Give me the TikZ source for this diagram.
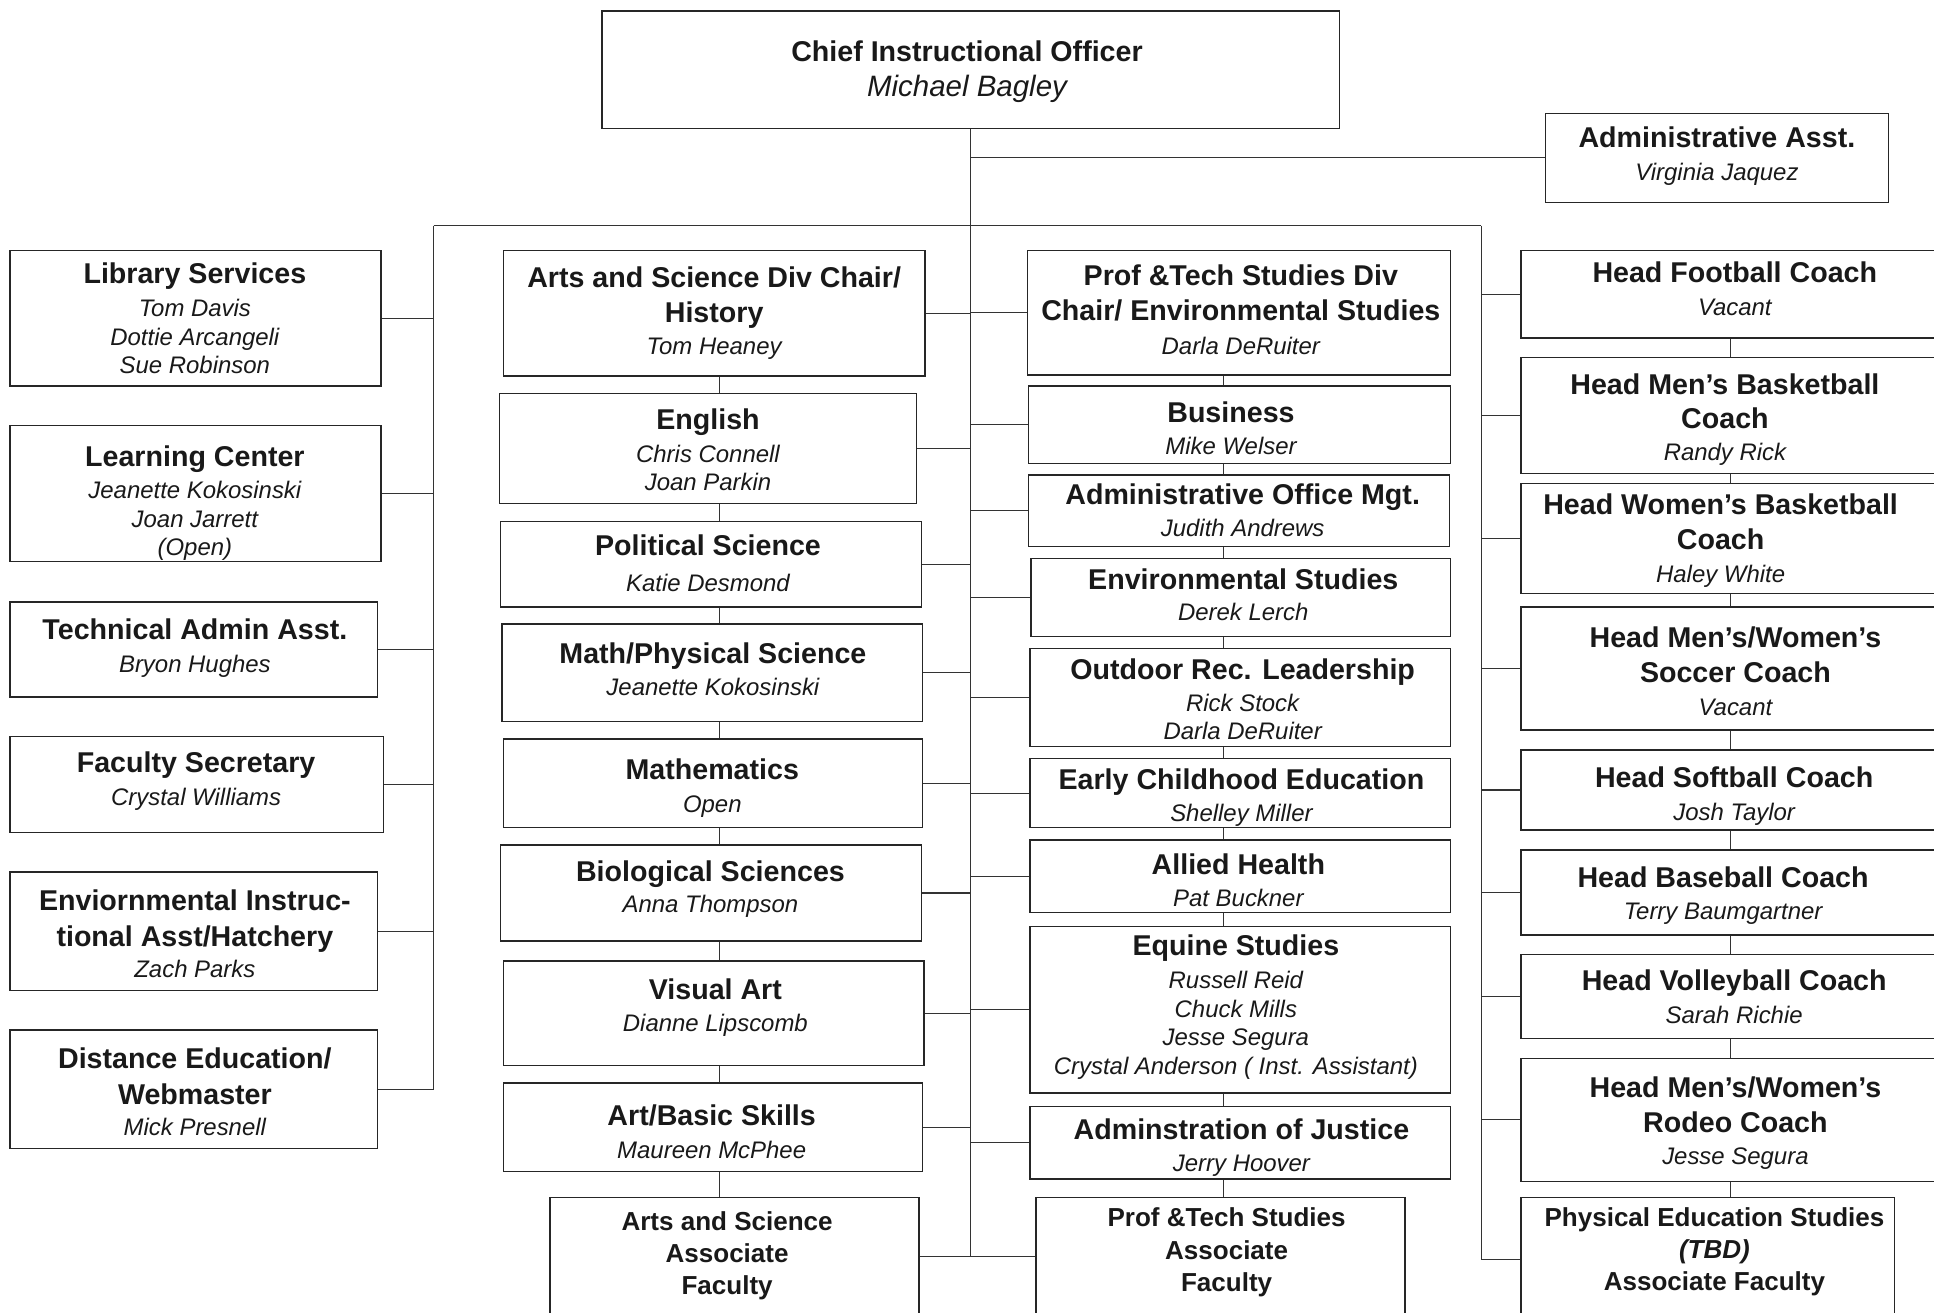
\documentclass[tikz,border=0pt]{standalone}
\usepackage{fontspec}
\setmainfont{Liberation Sans}

\newcommand{\ttl}[1]{{\fontsize{16.5}{20}\selectfont\bfseries #1}}
\newcommand{\smttl}[1]{{\fontsize{15}{18}\selectfont\bfseries #1}}
\newcommand{\nm}[1]{{\itshape #1}}
% box: name, left, top, right, bottom, text x, text top, text
\newcommand{\orgbox}[8]{%
  \node[unitbox, minimum width={(#4-#2)*0.025cm}, minimum height={(#5-#3)*0.025cm}]
    (#1) at ({(#2+#4)/2},{(#3+#5)/2}) {};
  \node[boxtext] (#1-txt) at (#6,#7) {#8};
}

\begin{document}
\begin{tikzpicture}[x=0.025cm, y=-0.025cm,
    unitbox/.style={draw=black!85, line width=0.8pt, inner sep=0pt},
    boxtext/.style={anchor=north, align=center, inner sep=0pt, text=black!90,
      font=\fontsize{13.8}{16.4}\selectfont},
    link/.style={draw=black!80, line width=0.6pt}]
  \useasboundingbox (0,0) rectangle (1568,1064);
  \clip (0,0) rectangle (1568,1064);

  % top
  \orgbox{cio}{488}{9}{1086}{104}{784}{32.5}{\ttl{Chief Instructional Officer}\\[4.2pt]{\fontsize{17}{20}\selectfont\itshape Michael Bagley}}
  \orgbox{adm}{1253}{92}{1531}{164}{1392}{102.7}{\ttl{Administrative Asst.}\\[2.6pt]\nm{Virginia Jaquez}}

  % staff on the left
  \orgbox{lib}{8}{203}{309}{313}{158}{213}{\ttl{Library Services}\\[2.6pt]\nm{Tom Davis}\\\nm{Dottie Arcangeli}\\\nm{Sue Robinson}}
  \orgbox{lrn}{8}{345}{309}{455}{158}{361.3}{\ttl{Learning Center}\\[2.2pt]\nm{Jeanette Kokosinski}\\\nm{Joan Jarrett}\\\nm{(Open)}}
  \orgbox{tad}{8}{488}{306}{565}{158}{501.3}{\ttl{Technical Admin Asst.}\\[2.6pt]\nm{Bryon Hughes}}
  \orgbox{fsec}{8}{597}{311}{675}{159}{609.4}{\ttl{Faculty Secretary}\\[2.6pt]\nm{Crystal Williams}}
  \orgbox{envi}{8}{707}{306}{803}{158}{721.4}{\ttl{Enviornmental Instruc-}\\[4.4pt]\ttl{tional Asst/Hatchery}\\[1.5pt]\nm{Zach Parks}}
  \orgbox{dist}{8}{835}{306}{931}{158}{849.2}{\ttl{Distance Education/}\\[4.4pt]\ttl{Webmaster}\\[1.5pt]\nm{Mick Presnell}}

  % arts and science
  \orgbox{asc}{408}{203}{750}{305}{579}{216}{\ttl{Arts and Science Div Chair/}\\[3.5pt]\ttl{History}\\[2.2pt]\nm{Tom Heaney}}
  \orgbox{eng}{405}{319}{743}{408}{574}{331.4}{\ttl{English}\\[2.2pt]\nm{Chris Connell}\\\nm{Joan Parkin}}
  \orgbox{pol}{406}{423}{747}{492}{574}{433.6}{\ttl{Political Science}\\[4.4pt]\nm{Katie Desmond}}
  \orgbox{mps}{407}{506}{748}{585}{578}{520.9}{\ttl{Math/Physical Science}\\[2.2pt]\nm{Jeanette Kokosinski}}
  \orgbox{mat}{408}{599}{748}{671}{577.5}{614.9}{\ttl{Mathematics}\\[2.6pt]\nm{Open}}
  \orgbox{bio}{406}{685}{747}{763}{576}{697.7}{\ttl{Biological Sciences}\\[1.5pt]\nm{Anna Thompson}}
  \orgbox{vis}{408}{779}{749}{864}{580}{793}{\ttl{Visual Art}\\[2.2pt]\nm{Dianne Lipscomb}}
  \orgbox{abs}{408}{878}{748}{950}{577}{895.7}{\ttl{Art/Basic Skills}\\[2.6pt]\nm{Maureen McPhee}}
  \orgbox{asf}{446}{971}{745}{1067}{589.5}{982.2}{\smttl{Arts and Science}\\[2.1pt]\smttl{Associate}\\[2.1pt]\smttl{Faculty}}

  % professional and technical studies
  \orgbox{ptc}{833}{203}{1176}{304}{1006}{214.7}{\ttl{Prof \&Tech Studies Div}\\[3.5pt]\ttl{Chair/ Environmental Studies}\\[3.5pt]\nm{Darla DeRuiter}}
  \orgbox{bus}{834}{313}{1176}{376}{998}{325.5}{\ttl{Business}\\[2.2pt]\nm{Mike Welser}}
  \orgbox{aom}{834}{385}{1175}{443}{1007.5}{391.7}{\ttl{Administrative Office Mgt.}\\[2.2pt]\nm{Judith Andrews}}
  \orgbox{env}{836}{453}{1176}{516}{1008}{460.6}{\ttl{Environmental Studies}\\[1.5pt]\nm{Derek Lerch}}
  \orgbox{odr}{835}{526}{1176}{605}{1007.5}{533.6}{\ttl{Outdoor Rec. Leadership}\\[2.2pt]\nm{Rick Stock}\\\nm{Darla DeRuiter}}
  \orgbox{ece}{835}{615}{1176}{671}{1006.5}{622.7}{\ttl{Early Childhood Education}\\[2.2pt]\nm{Shelley Miller}}
  \orgbox{ahl}{835}{681}{1176}{740}{1004}{691.7}{\ttl{Allied Health}\\[2.2pt]\nm{Pat Buckner}}
  \orgbox{eqs}{835}{751}{1176}{886}{1002}{757.9}{\ttl{Equine Studies}\\[2.6pt]\nm{Russell Reid}\\\nm{Chuck Mills}\\\nm{Jesse Segura}\\\nm{Crystal Anderson ( Inst. Assistant)}}
  \orgbox{aoj}{835}{897}{1176}{956}{1006.5}{906.5}{\ttl{Adminstration of Justice}\\[2.2pt]\nm{Jerry Hoover}}
  \orgbox{ptf}{840}{971}{1139}{1067}{994.5}{979.2}{\smttl{Prof \&Tech Studies}\\[2.1pt]\smttl{Associate}\\[2.1pt]\smttl{Faculty}}

  % coaches
  \orgbox{hfc}{1233}{203}{1580}{274}{1406.5}{212}{\ttl{Head Football Coach}\\[2.6pt]\nm{Vacant}}
  \orgbox{hmb}{1233}{290}{1580}{384}{1398.5}{302.5}{\ttl{Head Men’s Basketball}\\[3.5pt]\ttl{Coach}\\[2.2pt]\nm{Randy Rick}}
  \orgbox{hwb}{1233}{392}{1580}{481}{1395}{399.7}{\ttl{Head Women’s Basketball}\\[4.2pt]\ttl{Coach}\\[2.2pt]\nm{Haley White}}
  \orgbox{hsc}{1233}{492}{1580}{592}{1407}{507.9}{\ttl{Head Men’s/Women’s}\\[3.5pt]\ttl{Soccer Coach}\\[2.6pt]\nm{Vacant}}
  \orgbox{hsb}{1233}{608}{1580}{673}{1406}{621.4}{\ttl{Head Softball Coach}\\[2.6pt]\nm{Josh Taylor}}
  \orgbox{hbb}{1233}{689}{1580}{758}{1397}{702.5}{\ttl{Head Baseball Coach}\\[2.2pt]\nm{Terry Baumgartner}}
  \orgbox{hvb}{1233}{774}{1580}{842}{1406}{786.2}{\ttl{Head Volleyball Coach}\\[2.2pt]\nm{Sarah Richie}}
  \orgbox{hrc}{1233}{858}{1580}{958}{1407}{872.7}{\ttl{Head Men’s/Women’s}\\[3.5pt]\ttl{Rodeo Coach}\\[2.6pt]\nm{Jesse Segura}}
  \orgbox{pes}{1233}{971}{1536}{1072}{1390}{979.2}{\smttl{Physical Education Studies}\\[1.7pt]\smttl{\itshape (TBD)}\\[2.4pt]\smttl{Associate Faculty}}

  % lines
  \coordinate (lbus) at (351.5,183);
  \coordinate (rbus) at (1201,183);
  \coordinate (aschain) at (583.5,0);
  \coordinate (ptchain) at (992,0);
  \coordinate (hcchain) at (1403,0);
  \draw[link] (cio.south) -- (cio.south |- ptf.west) -- (ptf.west);
  \draw[link] (cio.south |- adm.west) -- (adm.west);
  \draw[link] (lbus) -- (rbus);
  \draw[link] (lbus) -- (lbus |- dist.east);
  \draw[link] (rbus) -- (rbus |- pes.west);
  \foreach \b in {lib,lrn,tad,fsec,envi,dist}
    \draw[link] (\b.east) -- (\b.east -| lbus);
  \foreach \b in {hfc,hmb,hwb,hsc,hsb,hbb,hvb,hrc,pes}
    \draw[link] (\b.west) -- (\b.west -| rbus);
  \foreach \b in {asc,eng,pol,mps,mat,bio,vis,abs,asf}
    \draw[link] (\b.east) -- (\b.east -| cio.south);
  \foreach \b in {ptc,bus,aom,env,odr,ece,ahl,eqs,aoj}
    \draw[link] (\b.west) -- (\b.west -| cio.south);
  \foreach \a/\b in {asc/eng,eng/pol,pol/mps,mps/mat,mat/bio,bio/vis,vis/abs,abs/asf}
    \draw[link] (\a.south -| aschain) -- (\b.north -| aschain);
  \foreach \a/\b in {ptc/bus,bus/aom,aom/env,env/odr,odr/ece,ece/ahl,ahl/eqs,eqs/aoj,aoj/ptf}
    \draw[link] (\a.south -| ptchain) -- (\b.north -| ptchain);
  \foreach \a/\b in {hfc/hmb,hmb/hwb,hwb/hsc,hsc/hsb,hsb/hbb,hbb/hvb,hvb/hrc,hrc/pes}
    \draw[link] (\a.south -| hcchain) -- (\b.north -| hcchain);
\end{tikzpicture}
\end{document}
